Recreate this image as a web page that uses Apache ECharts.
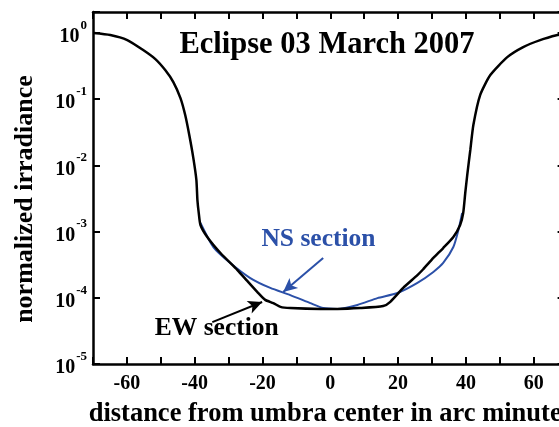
<!DOCTYPE html>
<html>
<head>
<meta charset="utf-8">
<script src="https://cdn.jsdelivr.net/npm/echarts@6/dist/echarts.min.js"></script>
<style>
html,body{margin:0;padding:0;background:#fff;overflow:hidden;}
#chart{width:559px;height:427px;}
</style>
</head>
<body>
<div id="chart"></div>
<script>
// ---- data ----
const titleText = 'Eclipse 03 March 2007';
const xTitle = 'distance from umbra center in arc minutes';
const yTitle = 'normalized irradiance';

const ewX = [-69.9,-64.9,-59.9,-55.2,-51.6,-48.7,-46.3,-44.2,-42.8,-41.6,-40.4,-39.5,-39.2,-38.8,-38.3,-36.3,-32.4,-27.4,-24.5,-21.5,-19.2,-16.8,-14.7,-11.8,-2.9,2.1,8.8,15.6,17.7,21.5,25.7,27.4,30.4,33.3,36.3,38.3,39.2,39.8,40.4,41.3,42.2,44.2,47.2,52.2,56.9,61.9,67.0,70.0];
const ewY = [1.0,0.933,0.783,0.553,0.404,0.276,0.182,0.104,0.0577,0.0288,0.0129,0.0060,0.0030,0.0019,0.00126,8.3e-4,4.75e-4,2.63e-4,1.8e-4,1.22e-4,9.3e-5,8.3e-5,7.3e-5,7.0e-5,6.8e-5,6.8e-5,7.0e-5,7.5e-5,8.7e-5,1.41e-4,2.2e-4,2.7e-4,4.0e-4,5.65e-4,8.3e-4,1.26e-3,1.91e-3,3.8e-3,7.2e-3,0.0171,0.0407,0.1156,0.232,0.433,0.615,0.783,0.933,1.0];

const nsX = [-38.3,-34.5,-29.5,-23.6,-17.7,-11.8,-5.9,-2.1,2.1,8.0,13.9,19.8,25.7,30.4,33.3,36.3,37.8,38.9];
const nsY = [1.35e-3,5.85e-4,3.36e-4,1.99e-4,1.41e-4,1.10e-4,8.3e-5,7.0e-5,6.8e-5,7.8e-5,9.9e-5,1.18e-4,1.68e-4,2.46e-4,3.36e-4,5.85e-4,1.06e-3,1.91e-3];

// annotation anchors (data coordinates)
const nsLabel = {text: 'NS section', at: [-3.5, 7.6e-4]};
const ewLabel = {text: 'EW section', at: [-33.5, 3.4e-5]};
const nsArrow = [[-2.1, 3.99e-4], [-13.9, 1.22e-4]];
const ewArrow = [[-34.8, 4.3e-5], [-20.1, 8.65e-5]];

const xMin = -70, xMax = 70, xInterval = 10;
const yMin = 1e-5, yMax = 2.08;

// ---- chart ----
const FONT = "'Liberation Serif','Times New Roman',serif";
const BLUE = '#2b50a8';
const zip = (xs, ys) => xs.map((x, i) => [x, ys[i]]);

function yLabel(v) {
  if (v > 1.5) return '';
  const e = Math.round(Math.log10(v));
  return '{b|10}{s|' + e + '}';
}
function xLabel(v) {
  return (Math.round(v) % 20 === 0) ? String(Math.round(v)) : '';
}

const axisLineStyle = {color: '#000', width: 2.5};
const tickStyle = {show: true, inside: true, length: 7, lineStyle: {color: '#000', width: 2}};

const chart = echarts.init(document.getElementById('chart'), null, {renderer: 'canvas'});
chart.setOption({
  animation: false,
  backgroundColor: '#fff',
  title: {
    text: titleText,
    left: 327,
    top: 30,
    textAlign: 'center',
    padding: 0,
    textStyle: {fontFamily: FONT, fontWeight: 'bold', fontSize: 30.5, color: '#000'}
  },
  grid: {left: 93, top: 12, width: 474.6, bottom: 63, containLabel: false, outerBoundsMode: 'none'},
  xAxis: [{
    type: 'value', min: xMin, max: xMax, interval: xInterval,
    position: 'bottom',
    name: xTitle, nameLocation: 'middle', nameGap: 37,
    nameTextStyle: {fontFamily: FONT, fontWeight: 'bold', fontSize: 26.5, color: '#000'},
    axisLine: {show: true, onZero: false, lineStyle: axisLineStyle},
    axisTick: tickStyle,
    splitLine: {show: false},
    axisLabel: {formatter: xLabel, margin: 10, fontFamily: FONT, fontWeight: 'bold', fontSize: 20, color: '#000'}
  }, {
    type: 'value', min: xMin, max: xMax, interval: xInterval,
    position: 'top',
    axisLine: {show: true, onZero: false, lineStyle: axisLineStyle},
    axisTick: tickStyle,
    splitLine: {show: false},
    axisLabel: {show: false}
  }],
  yAxis: [{
    type: 'log', logBase: 10, min: yMin, max: yMax,
    position: 'left',
    name: yTitle, nameLocation: 'middle', nameGap: 55, nameRotate: 90,
    nameTextStyle: {fontFamily: FONT, fontWeight: 'bold', fontSize: 26, color: '#000', padding: [0, 22, 0, 0]},
    axisLine: {show: true, onZero: false, lineStyle: axisLineStyle},
    axisTick: tickStyle,
    minorTick: {show: false},
    splitLine: {show: false},
    axisLabel: {
      formatter: yLabel, margin: 6, color: '#000',
      rich: {
        b: {fontFamily: FONT, fontWeight: 'bold', fontSize: 20, lineHeight: 20, padding: [8, 0, 0, 0], color: '#000'},
        s: {fontFamily: FONT, fontWeight: 'bold', fontSize: 13, lineHeight: 13, padding: [0, 0, 15, 1], color: '#000'}
      }
    }
  }, {
    type: 'log', logBase: 10, min: yMin, max: yMax,
    position: 'right',
    axisLine: {show: true, onZero: false, lineStyle: axisLineStyle},
    axisTick: {show: true, inside: true, length: 10, lineStyle: {color: '#000', width: 2}},
    splitLine: {show: false},
    axisLabel: {show: false}
  }],
  series: [{
    name: 'NS section',
    type: 'line',
    data: zip(nsX, nsY),
    showSymbol: false,
    smooth: 0.2,
    lineStyle: {color: BLUE, width: 2},
    z: 2,
    markLine: {
      silent: true,
      symbol: ['none', 'arrow'],
      symbolSize: [10, 14],
      lineStyle: {color: BLUE, width: 2, type: 'solid'},
      label: {show: false},
      data: [[{coord: nsArrow[0]}, {coord: nsArrow[1]}]]
    },
    markPoint: {
      silent: true,
      symbol: 'rect', symbolSize: 1,
      itemStyle: {color: 'rgba(0,0,0,0)'},
      label: {show: true, position: 'inside', formatter: nsLabel.text, fontFamily: FONT, fontWeight: 'bold', fontSize: 25.5, color: BLUE},
      data: [{coord: nsLabel.at}]
    }
  }, {
    name: 'EW section',
    type: 'line',
    data: zip(ewX, ewY),
    showSymbol: false,
    smooth: 0.2,
    lineStyle: {color: '#000', width: 2.5},
    z: 3,
    markLine: {
      silent: true,
      symbol: ['none', 'arrow'],
      symbolSize: [10, 14],
      lineStyle: {color: '#000', width: 2, type: 'solid'},
      label: {show: false},
      data: [[{coord: ewArrow[0]}, {coord: ewArrow[1]}]]
    },
    markPoint: {
      silent: true,
      symbol: 'rect', symbolSize: 1,
      itemStyle: {color: 'rgba(0,0,0,0)'},
      label: {show: true, position: 'inside', formatter: ewLabel.text, fontFamily: FONT, fontWeight: 'bold', fontSize: 25.5, color: '#000'},
      data: [{coord: ewLabel.at}]
    }
  }]
});
</script>
</body>
</html>
